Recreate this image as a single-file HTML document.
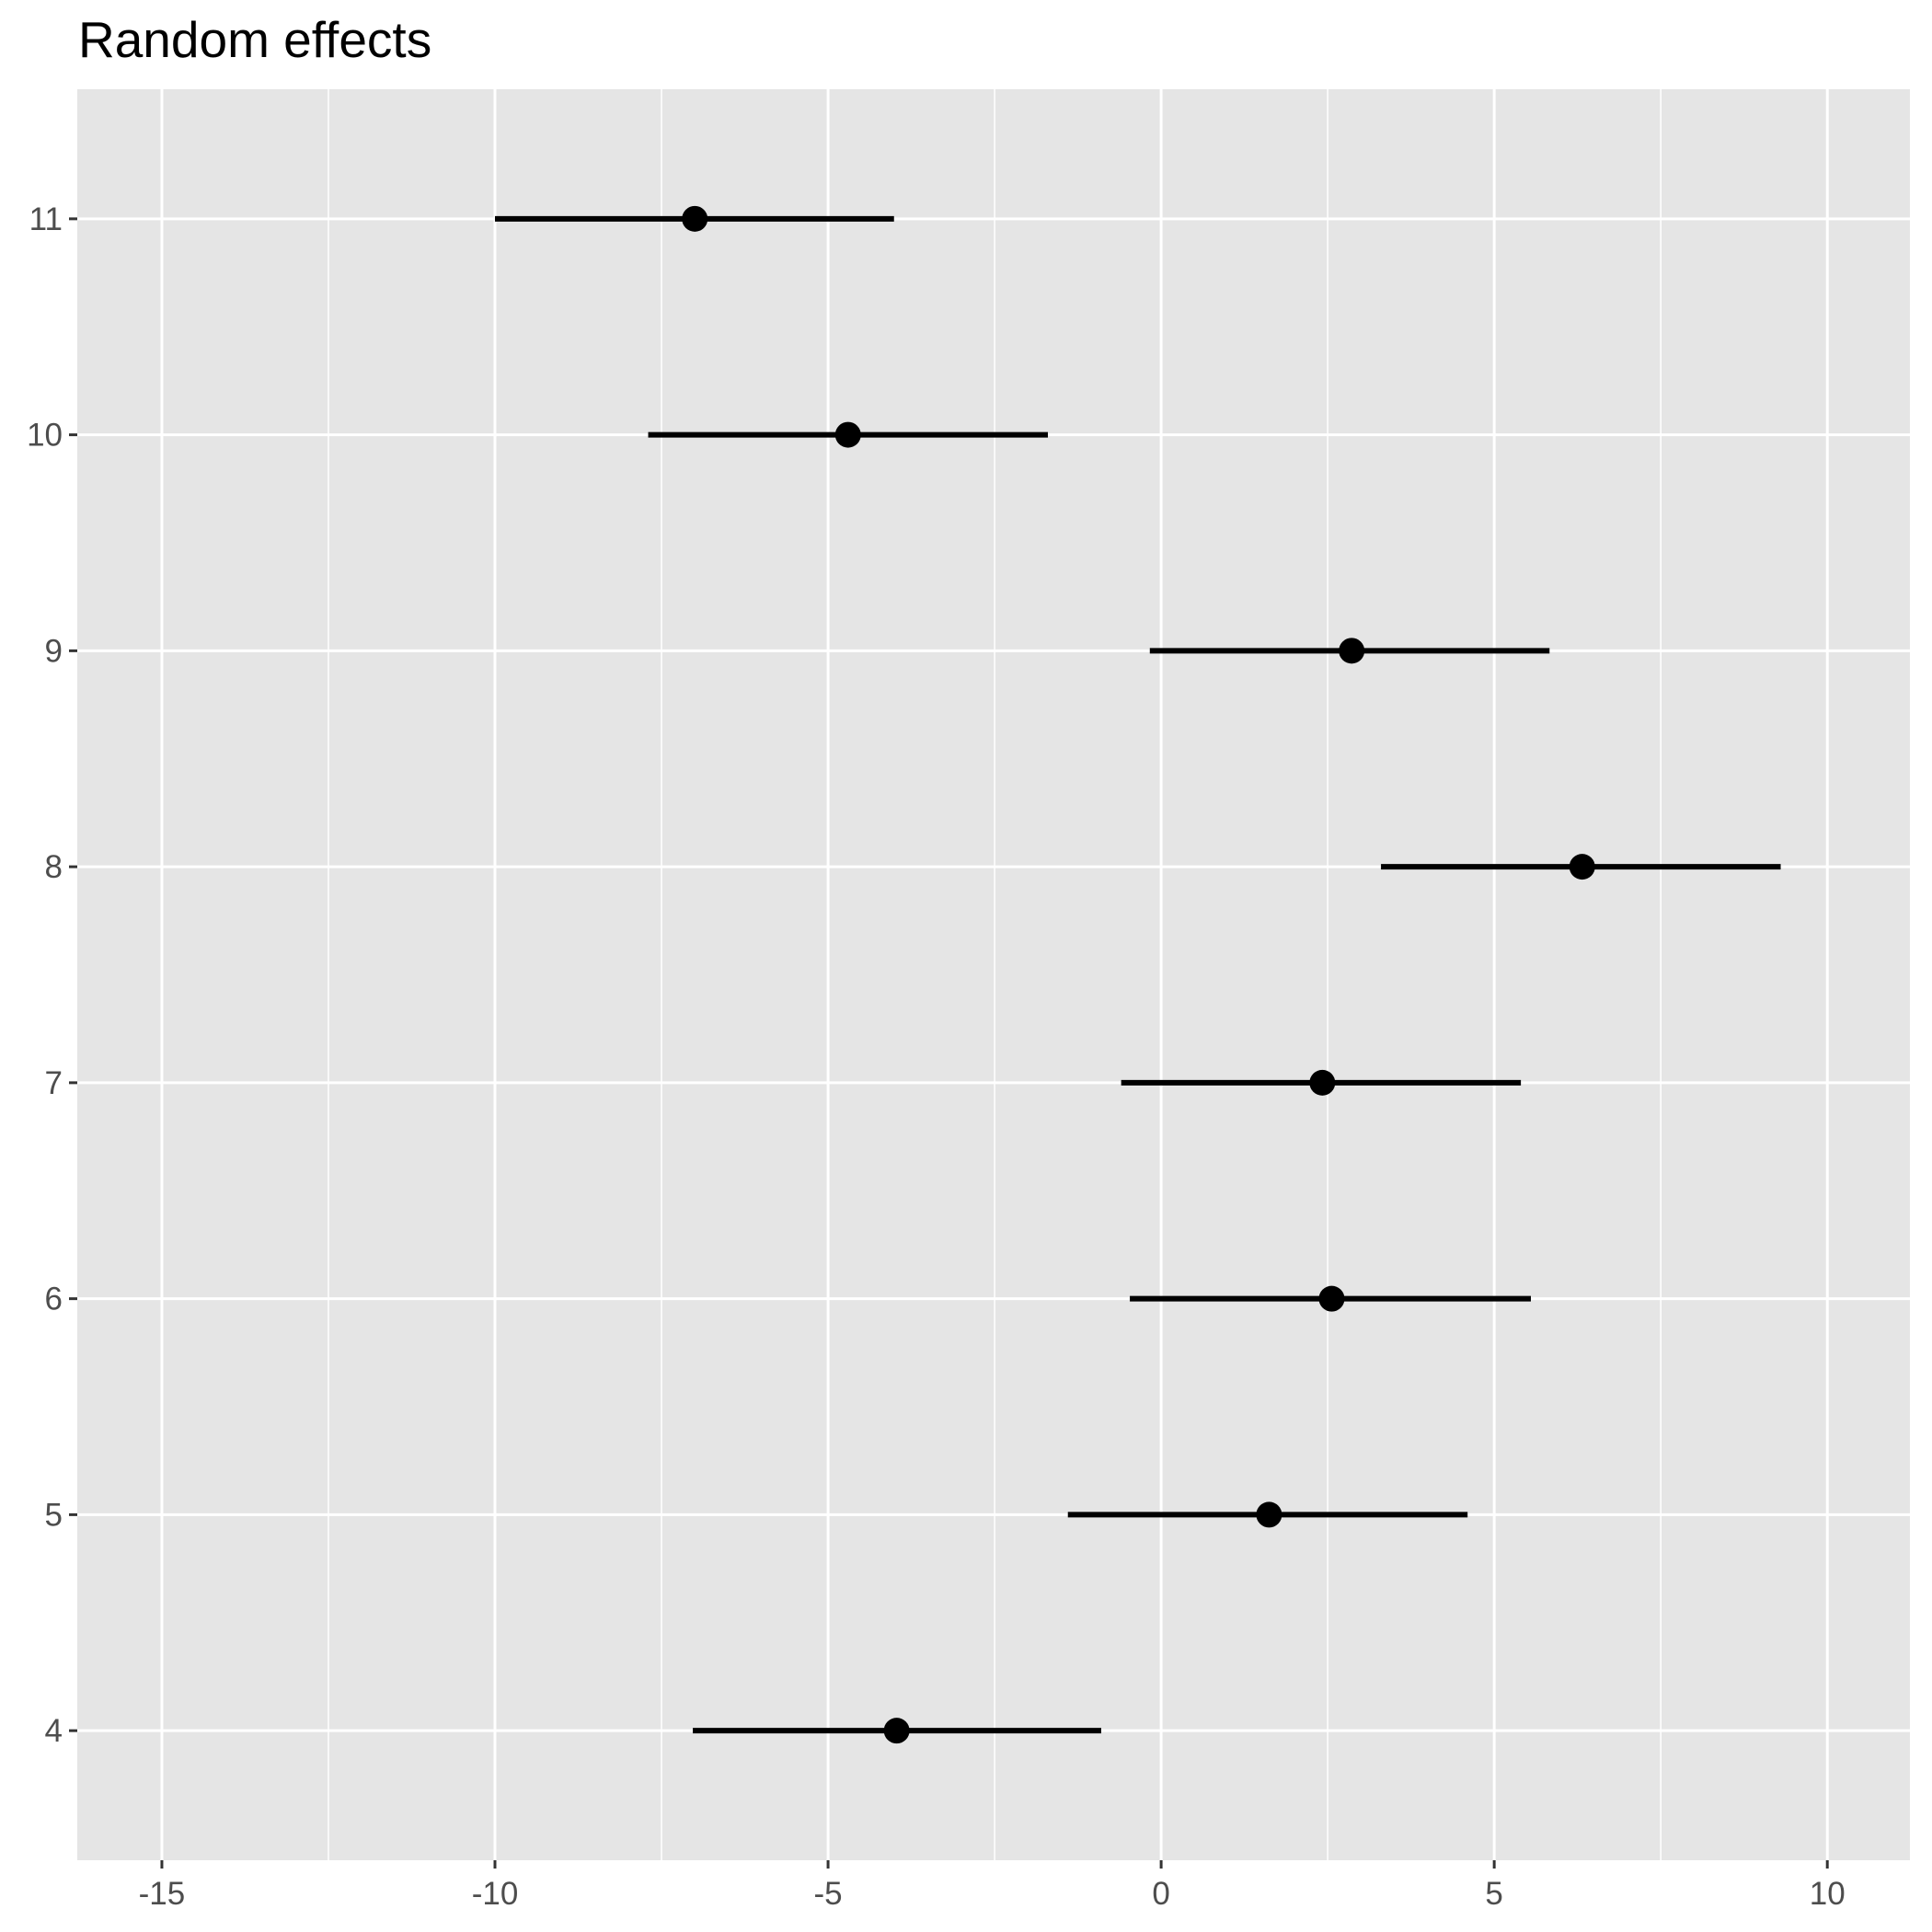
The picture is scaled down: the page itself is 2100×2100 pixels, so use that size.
<!DOCTYPE html>
<html><head><meta charset="utf-8"><style>
html,body{margin:0;padding:0;background:#fff;}
svg{display:block;font-family:"Liberation Sans",Arial,sans-serif;}
</style></head><body>
<svg id="chart" width="2100" height="2100" viewBox="0 0 2100 2100">
<text x="85" y="62" font-size="55" fill="#000">Random effects</text>
<rect x="84" y="97" width="1992" height="1925" fill="#e5e5e5"/>
<g id="grid"></g><g id="axes"></g><g id="marks"></g>
</svg>
<script>
const groups = [4,5,6,7,8,9,10,11];
const estimates = [-3.97,1.62,2.56,2.42,6.32,2.86,-4.7,-7.0];
const lowers = [-7.03,-1.4,-0.47,-0.6,3.3,-0.17,-7.7,-10.0];
const uppers = [-0.9,4.6,5.55,5.4,9.3,5.83,-1.7,-4.01];
const xTicks = [-15,-10,-5,0,5,10];
const xTickLabels = ["-15","-10","-5","0","5","10"];
const xMinor = [-12.5,-7.5,-2.5,2.5,7.5];

const NS='http://www.w3.org/2000/svg';
const PL=84, PR=2076, PT=97, PB=2022;
const xmin=-16.27, xmax=11.24;
const ymin=3.4, ymax=11.6;
function sx(v){return PL+(v-xmin)/(xmax-xmin)*(PR-PL);}
function sy(v){return PB-(v-ymin)/(ymax-ymin)*(PB-PT);}
function mk(tag,attrs,parent){const e=document.createElementNS(NS,tag);for(const k in attrs)e.setAttribute(k,attrs[k]);parent.appendChild(e);return e;}
const grid=document.getElementById('grid'), axes=document.getElementById('axes'), marks=document.getElementById('marks');

xMinor.forEach(v=>{
  const l=mk('line',{x1:sx(v),x2:sx(v),y1:PT,y2:PB,stroke:'#fff','stroke-width':1.5},grid);
  
  
});
xTicks.forEach((v,i)=>{
  const l=mk('line',{x1:sx(v),x2:sx(v),y1:PT,y2:PB,stroke:'#fff','stroke-width':3},grid);
  
  
  const t=mk('line',{x1:sx(v),x2:sx(v),y1:PB,y2:PB+9,stroke:'#333','stroke-width':3},axes);
  
  
  const tx=mk('text',{x:sx(v),y:2070,'font-size':35,fill:'#4d4d4d','text-anchor':'middle'},axes);
  tx.textContent=xTickLabels[i];
  
  
});
groups.forEach(g=>{
  const y=sy(g);
  const l=mk('line',{x1:PL,x2:PR,y1:y,y2:y,stroke:'#fff','stroke-width':3},grid);
  
  
  const t=mk('line',{x1:PL-9,x2:PL,y1:y,y2:y,stroke:'#333','stroke-width':3},axes);
  
  
  const tx=mk('text',{x:PL-16,y:y+12,'font-size':35,fill:'#4d4d4d','text-anchor':'end'},axes);
  tx.textContent=String(g);
  
  
});
groups.forEach((g,i)=>{
  const y=sy(g);
  const e=mk('line',{x1:sx(lowers[i]),x2:sx(uppers[i]),y1:y,y2:y,stroke:'#000','stroke-width':6},marks);
  
  
  const c=mk('circle',{cx:sx(estimates[i]),cy:y,r:14,fill:'#000'},marks);
  
  
});
</script>
</body></html>
